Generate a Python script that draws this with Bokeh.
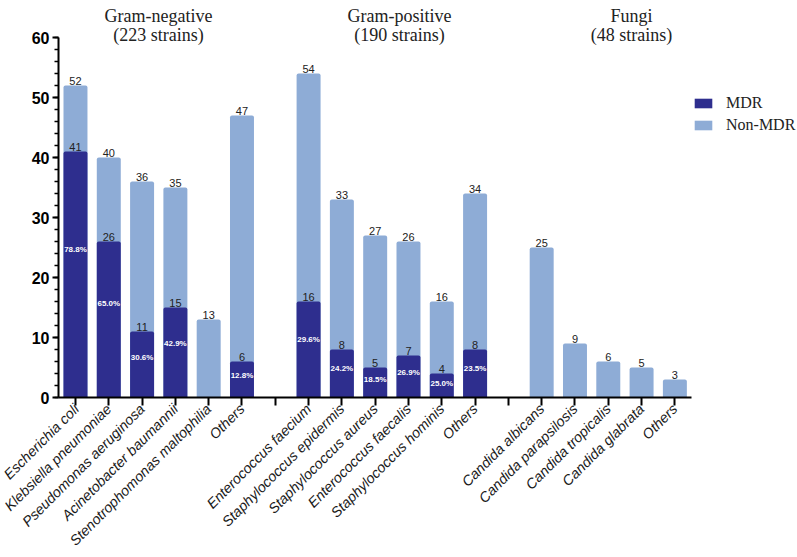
import math
from bokeh.plotting import figure
from bokeh.models import ColumnDataSource, Range1d, FixedTicker, Legend, LegendItem
from bokeh.core.properties import value
from bokeh.embed import file_html
from bokeh.resources import INLINE

# ---------------- data ----------------
gram_neg_names = ["Escherichia coli", "Klebsiella pneumoniae", "Pseudomonas aeruginosa",
                  "Acinetobacter baumannii", "Stenotrophomonas maltophilia", "Others"]
gram_neg_total = [52, 40, 36, 35, 13, 47]
gram_neg_mdr = [41, 26, 11, 15, 0, 6]

gram_pos_names = ["Enterococcus faecium", "Staphylococcus epidermis", "Staphylococcus aureus",
                  "Enterococcus faecalis", "Staphylococcus hominis", "Others"]
gram_pos_total = [54, 33, 27, 26, 16, 34]
gram_pos_mdr = [16, 8, 5, 7, 4, 8]

fungi_names = ["Candida albicans", "Candida parapsilosis", "Candida tropicalis",
               "Candida glabrata", "Others"]
fungi_total = [25, 9, 6, 5, 3]
fungi_mdr = [0, 0, 0, 0, 0]

group_line1 = ["Gram-negative", "Gram-positive", "Fungi"]
group_line2 = ["(223 strains)", "(190 strains)", "(48 strains)"]
y_ticks = [0, 10, 20, 30, 40, 50, 60]
legend_labels = ["MDR", "Non-MDR"]

# ---------------- layout / style ----------------
DARK = "#2e2e8e"
LIGHT = "#8eacd6"
TITLE_X = [2.49, 9.73, 16.7]   # horizontal placement of group headings (slot units)

groups = [(gram_neg_names, gram_neg_total, gram_neg_mdr),
          (gram_pos_names, gram_pos_total, gram_pos_mdr),
          (fungi_names, fungi_total, fungi_mdr)]

xs, names, totals, mdrs = [], [], [], []
slot = 0
for gi, (nm, tot, md) in enumerate(groups):
    for n, t, m in zip(nm, tot, md):
        xs.append(slot); names.append(n); totals.append(t); mdrs.append(m)
        slot += 1
    if gi < len(groups) - 1:
        slot += 1  # gap slot between groups
n_slots = slot

src_all = ColumnDataSource(dict(x=xs, total=totals, mdr=mdrs,
                                tlab=[str(t) for t in totals]))
mx = [x for x, m in zip(xs, mdrs) if m > 0]
mv = [m for m in mdrs if m > 0]
mt = [t for t, m in zip(totals, mdrs) if m > 0]
src_mdr = ColumnDataSource(dict(
    x=mx, mdr=mv, mlab=[str(m) for m in mv],
    pct=["%.1f%%" % (100.0 * m / t) for m, t in zip(mv, mt)],
    py=[m * 0.6 for m in mv]))

W, H = 797, 557
LEFT = 58
BOTTOM = 160
SLOT_PX = 33.3
frame_w = W - LEFT
x_start = -0.51
x_end = x_start + frame_w / SLOT_PX
Y_END = (H - BOTTOM) / 6.0

p = figure(width=W, height=H, output_backend="svg", toolbar_location=None,
           x_range=Range1d(x_start, x_end), y_range=Range1d(0, Y_END),
           min_border_left=LEFT, min_border_right=0, min_border_top=0,
           min_border_bottom=BOTTOM, tools="")
p.outline_line_color = None
p.xgrid.visible = False
p.ygrid.visible = False
p.background_fill_color = "white"
p.border_fill_color = "white"

BW = 0.72
r_light = p.vbar(x="x", top="total", bottom=0, width=BW, source=src_all,
                 fill_color=LIGHT, line_color=None, border_radius=(2, 2, 0, 0))
r_dark = p.vbar(x="x", top="mdr", bottom=0, width=BW, source=src_mdr,
                fill_color=DARK, line_color=None, border_radius=(2, 2, 0, 0))

# value labels
p.text(x="x", y="total", text="tlab", source=src_all, text_align="center",
       text_baseline="bottom", y_offset=-1, text_font=value("Liberation Sans"),
       text_font_size="11px", text_color="#222222")
p.text(x="x", y="mdr", text="mlab", source=src_mdr, text_align="center",
       text_baseline="bottom", y_offset=-1, text_font=value("Liberation Sans"),
       text_font_size="11px", text_color="#222222")
p.text(x="x", y="py", text="pct", source=src_mdr, text_align="center",
       text_baseline="middle", text_font=value("Liberation Sans"),
       text_font_size="8px", text_font_style="bold", text_color="white")

# group headings
title_src = ColumnDataSource(dict(x=TITLE_X, l1=group_line1, l2=group_line2,
                                  y1=[(397 - 15.5) / 6.0] * 3, y2=[(397 - 34.5) / 6.0] * 3))
p.text(x="x", y="y1", text="l1", source=title_src, text_align="center",
       text_baseline="alphabetic", text_font=value("Liberation Serif"),
       text_font_size="18px", text_color="#222222")
p.text(x="x", y="y2", text="l2", source=title_src, text_align="center",
       text_baseline="alphabetic", text_font=value("Liberation Serif"),
       text_font_size="18px", text_color="#222222")

# x axis
xa = p.xaxis[0]
xa.ticker = FixedTicker(ticks=list(range(n_slots)))
overrides = {i: "" for i in range(n_slots)}
for x, n in zip(xs, names):
    overrides[x] = n
xa.major_label_overrides = overrides
xa.major_label_orientation = math.pi / 4
xa.bounds = (-0.5, n_slots - 0.5)
xa.axis_line_width = 2
xa.axis_line_color = "black"
xa.major_tick_line_width = 2
xa.major_tick_line_color = "black"
xa.major_tick_out = 8
xa.major_tick_in = 0
xa.minor_tick_line_color = None
xa.major_label_text_font = "Liberation Sans"
xa.major_label_text_font_style = "italic"
xa.major_label_text_font_size = "14.3px"
xa.major_label_text_color = "#1a1a1a"
xa.major_label_standoff = 1

# y axis
ya = p.yaxis[0]
ya.ticker = FixedTicker(ticks=y_ticks, minor_ticks=[v for v in range(0, 61, 2)])
ya.bounds = (0, 60)
ya.axis_line_width = 2
ya.axis_line_color = "black"
ya.major_tick_line_width = 2
ya.major_tick_line_color = "black"
ya.major_tick_out = 6
ya.major_tick_in = 0
ya.minor_tick_line_width = 1.5
ya.minor_tick_line_color = "black"
ya.minor_tick_out = 4
ya.minor_tick_in = 0
ya.major_label_text_font = "Liberation Sans"
ya.major_label_text_font_style = "bold"
ya.major_label_text_font_size = "16px"
ya.major_label_text_color = "black"
ya.major_label_standoff = 3

legend = Legend(items=[LegendItem(label=legend_labels[0], renderers=[r_dark]),
                       LegendItem(label=legend_labels[1], renderers=[r_light])],
                location=(634, 263))
legend.label_text_font = "Liberation Serif"
legend.label_text_font_size = "16px"
legend.label_text_color = "#222222"
legend.glyph_width = 22
legend.glyph_height = 12
legend.label_standoff = 12
legend.spacing = 4
legend.padding = 0
legend.margin = 0
legend.border_line_color = None
legend.background_fill_alpha = 0
legend.label_height = 16
p.add_layout(legend)

open("out.html", "w").write(file_html(p, INLINE))
